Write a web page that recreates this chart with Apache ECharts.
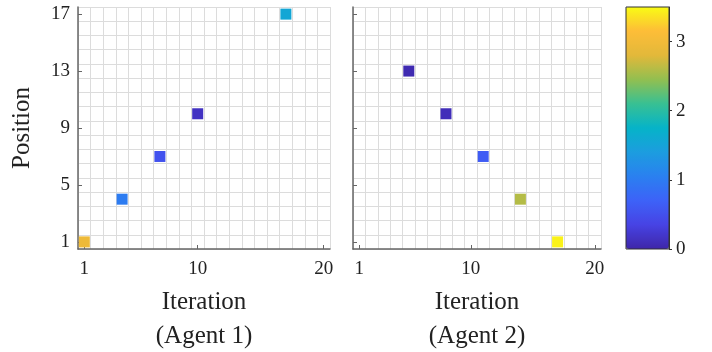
<!DOCTYPE html>
<html>
<head>
  <meta charset="UTF-8">
  <title>Agent positions</title>
  <style>
    * { box-sizing: border-box; margin:0; padding:0; }
    body { background: #fff; }
    #chart { width: 712px; height: 352px; }
  </style>
  <script src="https://cdn.jsdelivr.net/npm/echarts@6/dist/echarts.min.js"></script>
</head>
<body>
  <div id="chart"></div>
  <script>
    // data
    const agent1X = [1, 4, 7, 10, 17];
    const agent1Y = [1, 4, 7, 10, 17];
    const agent1C = [2.95, 1.0, 0.52, 0.15, 1.55];
    const agent2X = [5, 8, 11, 14, 17];
    const agent2Y = [13, 10, 7, 4, 1];
    const agent2C = [0.05, 0.1, 0.63, 2.6, 3.45];
    const xTicks = [1, 10, 20];
    const yTicks = [1, 5, 9, 13, 17];
    const cTicks = [0, 1, 2, 3];

    const parula = ['#3e26a8','#4743e4','#3d62f8','#2a80f0','#1c9ddf','#06b3c8',
                    '#38c093','#92bf50','#e2b83a','#fdbd38','#f9fb14'];
    const font = 'Liberation Serif';
    const txt = '#222';
    const axisCol = '#666';

    const pts = (xs, ys, cs) => xs.map((x, i) => [x, ys[i], cs[i]]);

    // hidden axes that only draw the cell grid (half-integer lines)
    const gridLineX = idx => ({
      gridIndex: idx, type: 'value', position: 'top', min: 0, max: 20, interval: 1,
      axisLine: { show: false }, axisTick: { show: false }, axisLabel: { show: false },
      splitLine: { show: true, lineStyle: { color: '#dcdcdc', width: 1 } }
    });
    const gridLineY = idx => ({
      gridIndex: idx, type: 'value', position: 'right', min: 0, max: 17, interval: 1,
      axisLine: { show: false }, axisTick: { show: false }, axisLabel: { show: false },
      splitLine: { show: true, lineStyle: { color: '#dcdcdc', width: 1 } }
    });
    const mainX = (idx, name) => ({
      gridIndex: idx, type: 'value', position: 'bottom', min: 0.5, max: 20.5,
      axisLine: { onZero: false, lineStyle: { color: axisCol, width: 1.5 } },
      axisTick: { inside: true, length: 4, customValues: xTicks, lineStyle: { color: axisCol } },
      axisLabel: { customValues: xTicks, fontFamily: font, fontSize: 19, color: txt, margin: 11 },
      splitLine: { show: false },
      name: name, nameLocation: 'middle', nameGap: 36,
      nameTextStyle: { fontFamily: font, fontSize: 25, color: txt, lineHeight: 34 }
    });
    const mainY = (idx, labels) => ({
      gridIndex: idx, type: 'value', position: 'left', min: 0.5, max: 17.5,
      axisLine: { onZero: false, lineStyle: { color: axisCol, width: 1.5 } },
      axisTick: { inside: true, length: 4, customValues: yTicks, lineStyle: { color: axisCol } },
      axisLabel: { show: labels, customValues: yTicks, fontFamily: font, fontSize: 19, color: txt, margin: 8 },
      splitLine: { show: false },
      name: labels ? 'Position' : '', nameLocation: 'middle', nameGap: 43,
      nameTextStyle: { fontFamily: font, fontSize: 25, color: txt }
    });

    const chart = echarts.init(document.getElementById('chart'));
    chart.setOption({
      animation: false,
      grid: [
        { left: 78, top: 7, width: 252, height: 242, outerBoundsMode: 'none' },
        { left: 353, top: 7, width: 248, height: 242, outerBoundsMode: 'none' },
        { left: 626, top: 7, width: 43, height: 242, show: true, outerBoundsMode: 'none',
          borderColor: '#333', borderWidth: 1, backgroundColor: 'transparent', z: 8 }
      ],
      xAxis: [
        mainX(0, 'Iteration\n(Agent 1)'), gridLineX(0),
        mainX(1, 'Iteration\n(Agent 2)'), gridLineX(1),
        { gridIndex: 2, type: 'value', show: false, min: 0, max: 1 }
      ],
      yAxis: [
        mainY(0, true), gridLineY(0),
        mainY(1, false), gridLineY(1),
        { gridIndex: 2, type: 'value', position: 'right', min: 0, max: 3.5, z: 10,
          axisLine: { show: true, onZero: false, lineStyle: { color: '#333', width: 1 } },
          axisTick: { inside: false, length: 3, customValues: cTicks, lineStyle: { color: '#333' } },
          axisLabel: { customValues: cTicks, fontFamily: font, fontSize: 19, color: txt, margin: 7 },
          splitLine: { show: false } }
      ],
      visualMap: {
        type: 'continuous', min: 0, max: 3.5, dimension: 2, seriesIndex: [0, 1],
        calculable: false, left: 626, top: 7, itemWidth: 43, itemHeight: 242,
        padding: 0, text: ['', ''], inRange: { color: parula }, z: 4
      },
      series: [
        { type: 'scatter', xAxisIndex: 0, yAxisIndex: 0, symbol: 'rect', symbolSize: 11,
          itemStyle: { opacity: 1 }, data: pts(agent1X, agent1Y, agent1C) },
        { type: 'scatter', xAxisIndex: 2, yAxisIndex: 2, symbol: 'rect', symbolSize: 11,
          itemStyle: { opacity: 1 }, data: pts(agent2X, agent2Y, agent2C) }
      ]
    });
  </script>
</body>
</html>
